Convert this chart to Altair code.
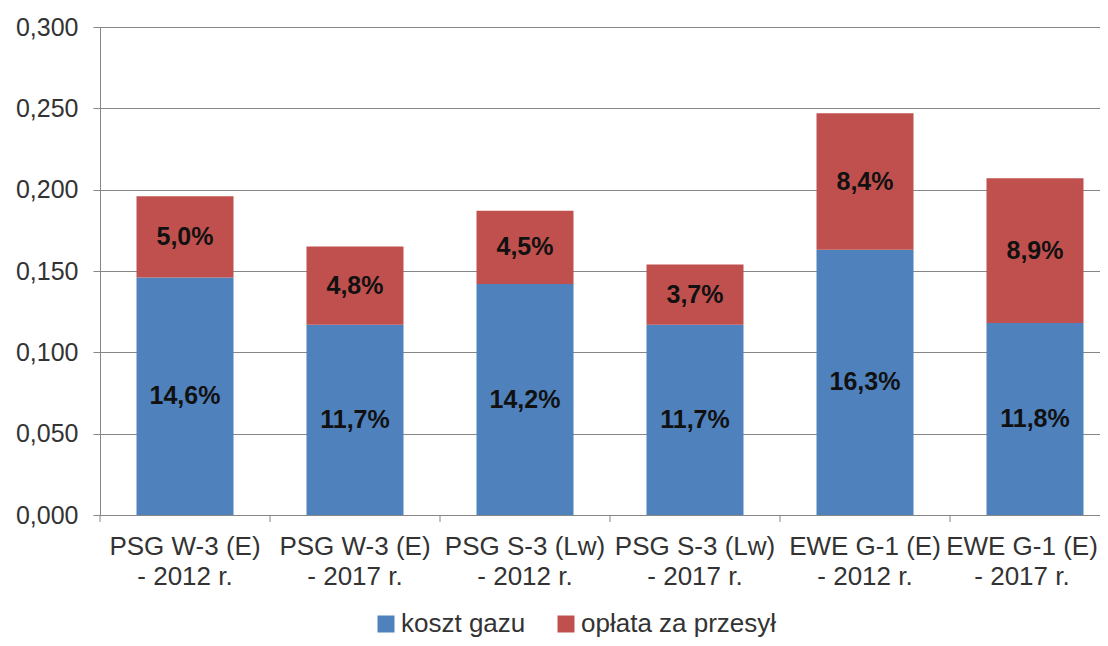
import altair as alt
import pandas as pd

categories = [
    "PSG W-3 (E) - 2012 r.",
    "PSG W-3 (E) - 2017 r.",
    "PSG S-3 (Lw) - 2012 r.",
    "PSG S-3 (Lw) - 2017 r.",
    "EWE G-1 (E) - 2012 r.",
    "EWE G-1 (E) - 2017 r.",
]
koszt_gazu = [0.146, 0.117, 0.142, 0.117, 0.163, 0.118]
oplata_za_przesyl = [0.050, 0.048, 0.045, 0.037, 0.084, 0.089]
series_names = ["koszt gazu", "opłata za przesył"]
series_colors = ["#4F81BD", "#C0504D"]
y_ticks = [0.0, 0.05, 0.10, 0.15, 0.20, 0.25, 0.30]

rows = []
for c, a, b in zip(categories, koszt_gazu, oplata_za_przesyl):
    rows.append({"cat": c, "series": series_names[0], "value": a, "ord": 0})
    rows.append({"cat": c, "series": series_names[1], "value": b, "ord": 1})
df = pd.DataFrame(rows)
df_cats = pd.DataFrame({"cat": categories})

FONT = "Liberation Sans"
GRID = "#868686"
TEXT = "#333333"

x_enc = alt.X(
    "cat:N",
    sort=categories,
    scale=alt.Scale(paddingInner=0, paddingOuter=0, range=[0, 1020]),
    axis=alt.Axis(
        title=None,
        labelAngle=0,
        labelExpr="[split(datum.label, ' - ')[0], '- ' + split(datum.label, ' - ')[1]]",
        labelFontSize=26,
        labelLineHeight=30,
        labelFont=FONT,
        labelColor=TEXT,
        labelPadding=18,
        labelLimit=400,
        labelOffset={"condition": {"test": "datum.value == '" + categories[-1] + "'", "value": -13}, "value": 0},
        ticks=False,
        domainColor=GRID,
        labelBaseline="top",
    ),
)

bars = alt.Chart(df).mark_bar(size=97).encode(
    x=x_enc,
    y=alt.Y(
        "value:Q",
        stack="zero",
        scale=alt.Scale(domain=[0, 0.3], nice=False),
        axis=alt.Axis(
            title=None,
            values=y_ticks,
            labelExpr="replace(format(datum.value, '.3f'), '.', ',')",
            labelFontSize=25,
            labelFont=FONT,
            labelColor=TEXT,
            tickSize=7,
            tickColor=GRID,
            gridColor=GRID,
            domainColor=GRID,
            labelPadding=15,
        ),
    ),
    color=alt.Color(
        "series:N",
        scale=alt.Scale(domain=series_names, range=series_colors),
        legend=alt.Legend(
            title=None,
            orient="none",
            legendX=273,
            legendY=584,
            direction="horizontal",
            symbolType="square",
            symbolSize=289,
            symbolStrokeWidth=0,
            symbolOpacity=1,
            labelFontSize=26,
            labelFont=FONT,
            labelColor=TEXT,
            labelOffset=2,
            labelLimit=400,
            columnPadding=27,
            padding=0,
        ),
    ),
    order=alt.Order("ord:Q", sort="ascending"),
)

labels = (
    alt.Chart(df)
    .transform_stack(stack="value", groupby=["cat"], as_=["y0", "y1"], sort=[alt.SortField("ord", order="ascending")])
    .transform_calculate(
        mid="(datum.y0 + datum.y1) / 2",
        lab="replace(format(datum.value * 100, '.1f'), '.', ',') + '%'",
    )
    .mark_text(font=FONT, fontSize=25, fontWeight="bold", color="#111111")
    .encode(x=alt.X("cat:N", sort=categories), y=alt.Y("mid:Q"), text="lab:N")
)

ticks = (
    alt.Chart(df_cats)
    .mark_rule(color=GRID, strokeWidth=1)
    .encode(
        x=alt.X("cat:N", sort=categories, bandPosition=0),
        y=alt.value(488),
        y2=alt.value(495),
    )
)

chart = (
    alt.layer(bars, labels, ticks)
    .properties(
        width=1000,
        height=488,
        autosize="none",
        padding={"left": 92, "top": 19, "right": 0, "bottom": 123},
    )
    .configure_view(strokeWidth=0)
    .configure_axis(gridColor=GRID)
)

chart.save("out.html", embed_options={"renderer": "svg", "actions": False})
